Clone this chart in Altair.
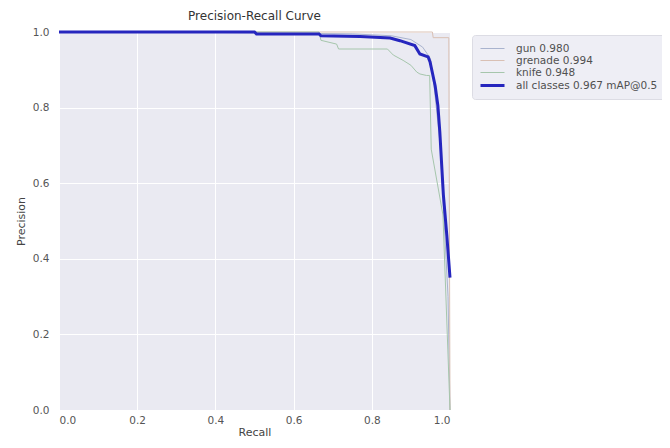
import altair as alt
import pandas as pd

# ---- data ----
series_names = ["gun 0.980", "grenade 0.994", "knife 0.948", "all classes 0.967 mAP@0.5"]
series_colors = ["#A9B3CE", "#D9C0B4", "#A6C6AC", "#2626BE"]
series_widths = [1, 1, 1, 3]

gun_recall = [0.0, 0.30, 0.75, 0.85, 0.90, 0.93, 0.95, 0.96, 0.975, 0.985, 0.995, 1.0]
gun_precision = [1.0, 1.0, 0.995, 0.99, 0.98, 0.96, 0.93, 0.85, 0.70, 0.50, 0.30, 0.0]

grenade_recall = [0.0, 0.955, 0.957, 0.997, 1.0]
grenade_precision = [1.0, 1.0, 0.985, 0.985, 0.0]

knife_recall = [0.0, 0.665, 0.67, 0.71, 0.715, 0.84, 0.855, 0.88, 0.90, 0.915, 0.923, 0.94, 0.948, 0.952, 0.982, 1.0]
knife_precision = [1.0, 1.0, 0.978, 0.968, 0.955, 0.955, 0.939, 0.925, 0.912, 0.894, 0.889, 0.885, 0.885, 0.69, 0.516, 0.0]

all_recall = [0.0, 0.50, 0.505, 0.665, 0.67, 0.77, 0.847, 0.872, 0.91, 0.923, 0.944, 0.949, 0.962, 0.969, 0.974, 0.983, 0.992, 1.0]
all_precision = [1.0, 1.0, 0.995, 0.995, 0.99, 0.988, 0.984, 0.977, 0.964, 0.942, 0.934, 0.921, 0.858, 0.805, 0.735, 0.57, 0.46, 0.35]

rows = []
for name, rs, ps in zip(series_names,
                        [gun_recall, grenade_recall, knife_recall, all_recall],
                        [gun_precision, grenade_precision, knife_precision, all_precision]):
    for i, (r, p) in enumerate(zip(rs, ps)):
        rows.append({"series": name, "recall": r, "precision": p, "i": i})
df = pd.DataFrame(rows)

ticks = [0.0, 0.2, 0.4, 0.6, 0.8, 1.0]

legend = alt.Legend(orient="none", legendX=413, legendY=3,
                    symbolType="M-1,0H3", symbolSize=144,
                    labelOffset=22, padding=7, rowPadding=0,
                    fillColor="#EEEEF5", strokeColor="#DCDCE4",
                    cornerRadius=3, labelFontSize=10.5,
                    labelColor="#505050", labelFont="DejaVu Sans", offset=0)

base = alt.Chart(df).encode(
    x=alt.X("recall:Q", scale=alt.Scale(domain=[0, 1], nice=False),
            axis=alt.Axis(values=ticks, format=".1f", title="Recall")),
    y=alt.Y("precision:Q", scale=alt.Scale(domain=[0, 1], nice=False),
            axis=alt.Axis(values=ticks, format=".1f", title="Precision")),
    color=alt.Color("series:N",
                    scale=alt.Scale(domain=series_names, range=series_colors),
                    title=None, legend=legend),
    strokeWidth=alt.StrokeWidth("series:N",
                                scale=alt.Scale(type="ordinal", domain=series_names,
                                                range=series_widths),
                                title=None, legend=legend),
    order="i:Q",
)

classes = base.mark_line().transform_filter(alt.datum.series != series_names[3])
allc = base.mark_line().transform_filter(alt.datum.series == series_names[3])

chart = alt.layer(classes, allc).properties(
    width=391, height=378,
    title=alt.TitleParams("Precision-Recall Curve", fontSize=12, fontWeight="normal",
                          font="DejaVu Sans", color="#333333", offset=3),
    autosize=alt.AutoSizeParams(type="none"),
    padding={"left": 51, "top": 24, "right": 212, "bottom": 30},
).configure_view(
    stroke=None, fill="#EAEAF2"
).configure_axis(
    domain=False, ticks=False, grid=True, gridColor="#FFFFFF", gridWidth=1,
    labelFontSize=10.5, labelColor="#555555", labelFont="DejaVu Sans",
    titleFontSize=11, titleColor="#444444", titleFont="DejaVu Sans", titleFontWeight="normal",
).configure_axisY(labelPadding=10, titlePadding=6).configure_axisX(labelPadding=5, titlePadding=1)

chart.save("out.html", embed_options={"renderer": "svg", "actions": False})
